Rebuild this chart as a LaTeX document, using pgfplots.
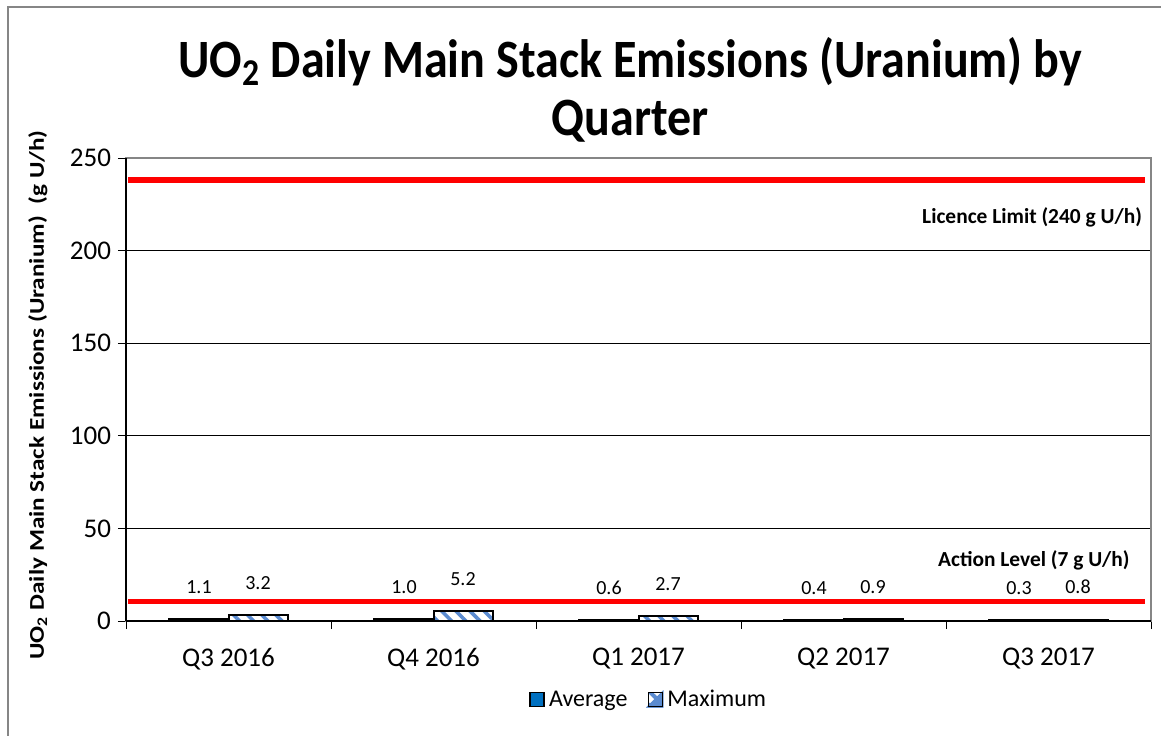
\documentclass[border=0pt]{standalone}
\usepackage{fontspec}
\setmainfont{Carlito}
\usepackage{pgfplots}
\pgfplotsset{compat=1.18}
\usetikzlibrary{patterns.meta}
\definecolor{avgblue}{HTML}{0070C0}
\definecolor{hatchblue}{HTML}{5B8BD0}
\definecolor{framegray}{HTML}{868686}

\begin{document}
\begin{tikzpicture}[x=1pt,y=1pt]
\useasboundingbox (0,0) rectangle (580.5,367.5);
\draw[framegray, line width=1pt] (4,-1) -- (4,364) -- (581,364);
\node[anchor=base, font=\bfseries\fontsize{27}{30}\selectfont] at (315,328.5)
  {\scalebox{0.89}[1]{UO\textsubscript{2} Daily Main Stack Emissions (Uranium) by}};
\node[anchor=base, font=\bfseries\fontsize{27}{30}\selectfont] at (315,299.5) {\scalebox{0.89}[1]{Quarter}};
\begin{axis}[
  at={(63pt,57pt)}, anchor=south west,
  scale only axis, width=512.5pt, height=231.5pt,
  xmin=-0.5, xmax=4.5, ymin=0, ymax=250,
  clip=false,
  /pgf/number format/assume math mode=true,
  ytick={0,50,...,250},
  xtick={0,...,4},
  xticklabels={Q3 2016,Q4 2016,Q1 2017,Q2 2017,Q3 2017},
  minor xtick={-0.5,0.5,1.5,2.5,3.5,4.5},
  major x tick style={draw=none},
  tick align=outside, major tick length=4pt, minor tick length=4pt,
  xtick pos=bottom, ytick pos=left,
  tick style={black, line width=0.5pt},
  ymajorgrids, grid style={black, line width=0.5pt},
  axis line style={framegray, line width=0.8pt},
  yticklabel style={font=\fontsize{13.5}{15}\selectfont},
  xticklabel style={font=\fontsize{13.5}{15}\selectfont, yshift=-6pt},
  ylabel={\scalebox{1.2}[1]{UO\textsubscript{2} Daily Main Stack Emissions (Uranium)\ \ (g U/h)}},
  ylabel style={at={(axis description cs:-0.086,0.488)}, anchor=center, rotate=0,
    font=\bfseries\fontsize{10.5}{12}\selectfont},
  legend style={at={(0.511,-0.171)}, anchor=center, draw=none, legend columns=2,
    font=\fontsize{12}{14}\selectfont,
    /tikz/every even column/.append style={column sep=8pt}},
  legend cell align=left,
]
\addplot[ybar, bar width=0.288, bar shift=-0.144, fill=avgblue, draw=black, line width=1pt,
  nodes near coords={\pgfmathprintnumber[fixed,fixed zerofill,precision=1]{\pgfplotspointmeta}},
  every node near coord/.append style={font=\fontsize{10}{12}\selectfont, anchor=south, yshift=9pt, xshift=-14.75pt, black},
  legend image code/.code={\draw[fill=avgblue, draw=black, line width=0.8pt] (0pt,-3.2pt) rectangle (7pt,3.8pt);}]
  coordinates {(0,1.1) (1,1.0) (2,0.6) (3,0.4) (4,0.3)};
\addlegendentry{Average}
\addplot[ybar, bar width=0.288, bar shift=0.144, draw=black, line width=1pt,
  postaction={pattern={Lines[angle=-45, distance=5pt, line width=1.8pt]}, pattern color=hatchblue},
  nodes near coords={\pgfmathprintnumber[fixed,fixed zerofill,precision=1]{\pgfplotspointmeta}},
  every node near coord/.append style={font=\fontsize{10}{12}\selectfont, anchor=south, yshift=9pt, xshift=14.75pt, black},
  legend image code/.code={\fill[white] (0pt,-3.2pt) rectangle (7pt,3.8pt);
    \fill[hatchblue] (0pt,-3.2pt) -- (7pt,-3.2pt) -- (7pt,3.8pt) -- cycle;
    \draw[black, line width=0.8pt] (0pt,-3.2pt) rectangle (7pt,3.8pt);}]
  coordinates {(0,3.2) (1,5.2) (2,2.7) (3,0.9) (4,0.8)};
\addlegendentry{Maximum}
\addplot[red, line width=2.8pt, forget plot] coordinates {(-0.49,238) (4.47,238)};
\addplot[red, line width=2.8pt, forget plot] coordinates {(-0.49,10.5) (4.47,10.5)};
\draw[black, line width=0.8pt] (rel axis cs:0,0) -- (rel axis cs:0,1);
\draw[black, line width=0.8pt] (rel axis cs:0,0) -- (rel axis cs:1,0);
\node[anchor=east, font=\bfseries\fontsize{10.7}{12}\selectfont] at (axis cs:4.49,218) {Licence Limit (240 g U/h)};
\node[anchor=east, font=\bfseries\fontsize{10.7}{12}\selectfont] at (axis cs:4.43,33) {Action Level (7 g U/h)};
\end{axis}
\end{tikzpicture}
\end{document}
